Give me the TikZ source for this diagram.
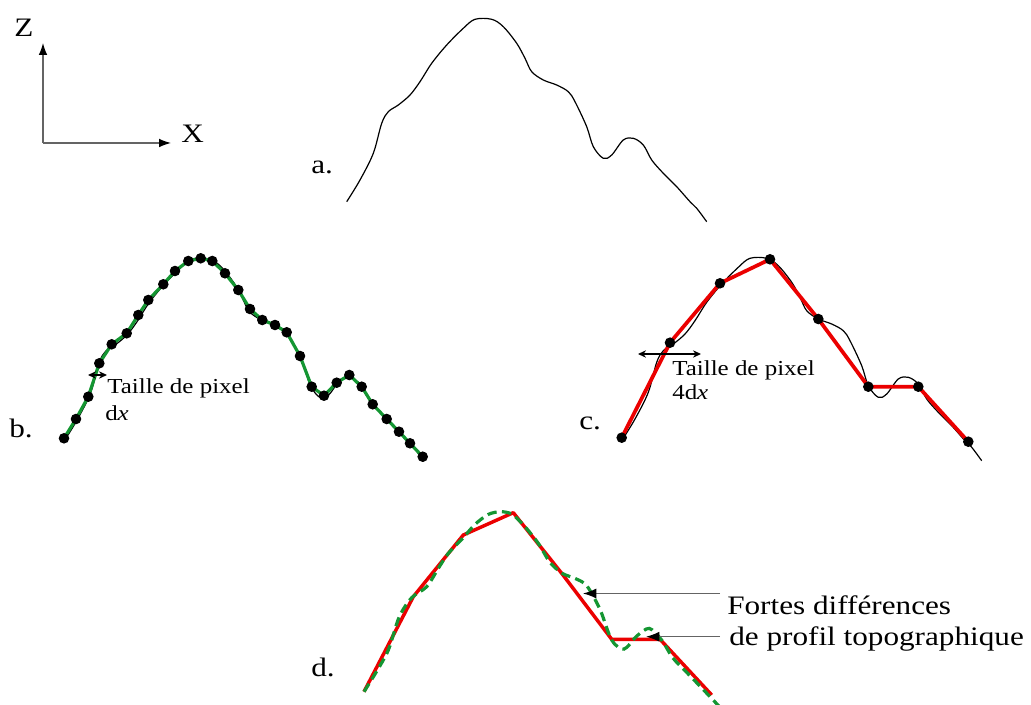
\documentclass[tikz,border=0pt]{standalone}
\usepackage{fontspec}
\setmainfont{Liberation Serif}
\usetikzlibrary{arrows.meta}
\definecolor{pgreen}{RGB}{20,150,50}
\definecolor{pred}{RGB}{235,0,0}
\definecolor{lgray}{RGB}{100,100,100}
\newcommand\sx[1]{\scalebox{1.17}[1]{#1}}
\newcommand\curveA{plot[smooth,tension=0.55] coordinates {(346.7,201.7) (360,180) (373.3,153.3) (381.7,123.3) (388.3,111.7) (398.3,105) (410,95) (420,81.7) (431.7,63.3) (446.7,45) (463.3,28.3) (475,19.3) (491.7,19.3) (503.3,26.7) (516.7,43.3) (525,58.3) (531.7,71.7) (543.3,80) (556.7,85) (568.3,91.7) (575,101.7) (586.7,126.7) (593.3,146.7) (603.3,158.3) (611.7,155) (623.3,140) (633.3,138.3) (643.3,145) (651.7,160) (663.3,173.3) (676.7,186.7) (690,201.7) (696.7,208.3) (706.7,221.7)}}
\newcommand\ptsB{(64,438.3) (76,419) (88.3,396.7) (99.3,363.3) (111.7,344.3) (126.7,333.3) (138.3,315) (148.3,300) (163.3,284.3) (175,271) (188.3,261) (200.7,258.3) (212.3,261) (225,273.3) (238.3,290) (250,309) (262.3,320) (275,325) (286.7,332.3) (300,356) (311.7,386.7) (324,395.7) (336.7,382.7) (349.3,375) (361.7,386.7) (372.7,404.3) (386.7,419) (399,431.7) (410,443.3) (422.7,456.7)}
\newcommand\ptsBlist{64/438.3,76/419,88.3/396.7,99.3/363.3,111.7/344.3,126.7/333.3,138.3/315,148.3/300,163.3/284.3,175/271,188.3/261,200.7/258.3,212.3/261,225/273.3,238.3/290,250/309,262.3/320,275/325,286.7/332.3,300/356,311.7/386.7,324/395.7,336.7/382.7,349.3/375,361.7/386.7,372.7/404.3,386.7/419,399/431.7,410/443.3,422.7/456.7}
\tikzset{
  x=0.75pt, y=-0.75pt,
  big/.style={font=\fontsize{20}{24}\selectfont, inner sep=0pt, anchor=base west},
  small/.style={font=\fontsize{16}{18}\selectfont, inner sep=0pt, anchor=base west},
  orig/.style={draw=black, line width=0.9pt},
  dotb/.style={fill=black},
  axis/.style={draw=lgray, line width=0.9pt, -{Latex[length=9pt,width=6.5pt,color=black]}},
  pointer/.style={draw=lgray, line width=0.9pt, -{Latex[length=10pt,width=7.5pt,color=black]}},
  dimarrow/.style={draw=black, line width=0.9pt, {Stealth[length=6pt,width=5.5pt]}-{Stealth[length=6pt,width=5.5pt]}},
}
\begin{document}
\begin{tikzpicture}
\useasboundingbox (0,0) rectangle (1031,705);
% axes
\coordinate (O) at (43,143);
\coordinate (Zt) at (43,43);
\coordinate (Xt) at (171,143);
\draw[axis] (O) -- (Zt);
\draw[axis] (O) -- (Xt);
\node[big] (Z) at (14,37) {\sx{Z}};
\node[big] (X) at (181,143) {\sx{X}};
% a
\draw[orig] \curveA;
\node[big] (la) at (311,174) {\sx{a.}};
% b
\begin{scope}[shift={(-282.7,239.6)}]
\draw[orig] \curveA;
\end{scope}
\draw[pgreen, line width=2.4pt, line join=round] plot coordinates {\ptsB};
\foreach \a/\b in \ptsBlist {\fill[dotb] (\a,\b) circle (5.3);}
\node[big] (lb) at (9,438) {\sx{b.}};
\coordinate (b1) at (88,375);
\coordinate (b2) at (107,375);
\draw[dimarrow] (b1) -- (b2);
\node[small] (tb1) at (107,394) {\sx{Taille de pixel}};
\node[small] (tb2) at (105,421) {\sx{d\textit{x}}};
% c
\begin{scope}[shift={(275,239)}]
\draw[orig] \curveA;
\end{scope}
\draw[pred, line width=2.8pt, line join=round] plot coordinates {(621.7,437.7) (670,342.7) (720,283.3) (770,259.3) (818.3,319) (868.3,386.7) (918.3,386.7) (968.3,441.7)};
\foreach \a/\b in {621.7/437.7,670/342.7,720/283.3,770/259.3,818.3/319,868.3/386.7,918.3/386.7,968.3/441.7} {\fill[dotb] (\a,\b) circle (5.3);}
\node[big] (lc) at (579,430) {\sx{c.}};
\coordinate (c1) at (638,354);
\coordinate (c2) at (701,354);
\draw[dimarrow] (c1) -- (c2);
\node[small] (tc1) at (672,376) {\sx{Taille de pixel}};
\node[small] (tc2) at (672,400) {\sx{4d\textit{x}}};
% d
\begin{scope}
\clip (0,0) rectangle (1031,705);
\draw[pred, line width=2.6pt, line join=round] (364,691.7) -- (413.3,596.7) -- (463.3,535) -- (513.3,512.7) -- (561.7,573.3) -- (611.7,639.3) -- (660,639.3) -- (711.7,695);
\begin{scope}[shift={(300,253.4)}]
\draw[pgreen, line width=2.4pt, dash pattern=on 7pt off 4pt] plot[smooth,tension=0.5] coordinates {\ptsB};
\end{scope}
\end{scope}
\node[big] (ld) at (311,676) {\sx{d.}};
\node[big] (f1) at (727,614) {\sx{Fortes différences}};
\node[big] (f2) at (729,645) {\sx{de profil topographique}};
\coordinate (p1s) at (720,593.5);
\coordinate (p1e) at (583,593.5);
\coordinate (p2s) at (720,636.7);
\coordinate (p2e) at (646,636.7);
\draw[pointer] (p1s) -- (p1e);
\draw[pointer] (p2s) -- (p2e);
\end{tikzpicture}
\end{document}
